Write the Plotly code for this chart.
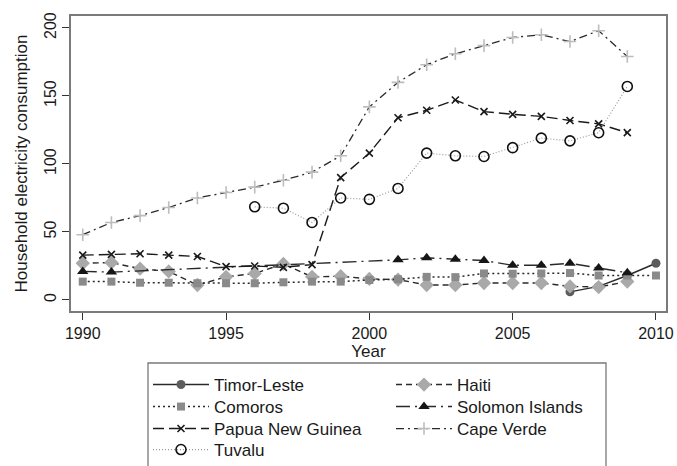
import plotly.graph_objects as go

years = list(range(1990, 2011))

# Household electricity consumption by country (None = no observation)
timor_leste = [None] * 17 + [6, 10, 18, 27]
haiti = [27, 27.5, 23, 21, 11, 17, 19.5, 26.5, 17, 17.5, 15.5, 15, 11, 11,
         12.5, 12.5, 12.5, 10, 9.5, 13.5, None]
comoros = [13.5, 13.5, 12.7, 12.7, 12.3, 12.3, 12.3, 13, 13.5, 13.5, 14.7,
           15.2, 17, 16.8, 19.5, 19.3, 19.5, 19.8, 18, 18, 18]
solomon_islands = [21, 20.5, None, None, None, None, None, None, None, None,
                   None, 29.5, 31, 30, 29, 25.5, 25.5, 27, 23.5, 20, None]
papua_new_guinea = [33, 33.5, 34, 33, 32, 24.5, 25, 24, 26, 90, 108, 134,
                    139.5, 147, 138.5, 136.5, 135, 132, 129.5, 123, None]
cape_verde = [48, 57, 62, 68, 75, 79, 83, 88, 94, 106, 142, 160, 173, 181,
              187, 193, 195, 190, 198, 179, None]
tuvalu = [None] * 6 + [68.5, 67.5, 57, 75, 74, 82, 108, 106, 105.5, 112,
                       119, 117, 123, 157, None]

x_ticks = [1990, 1995, 2000, 2005, 2010]
y_ticks = [0, 50, 100, 150, 200]

FONT = "Liberation Sans, Arial, sans-serif"

# (name, values, marker, line, legend row)
series = [
    ("Timor-Leste", timor_leste, dict(symbol="circle", size=9, color="#5c5c5c"),
     dict(color="#2a2a2a", dash="solid", width=1.4), "legend"),
    ("Haiti", haiti, dict(symbol="diamond", size=11, color="#a9a9a9"),
     dict(color="#2a2a2a", dash="6px,4px", width=1.4), "legend"),
    ("Comoros", comoros, dict(symbol="square", size=8, color="#8a8a8a"),
     dict(color="#2a2a2a", dash="2px,3px", width=1.5), "legend2"),
    ("Solomon Islands", solomon_islands,
     dict(symbol="triangle-up", size=10, color="#161616"),
     dict(color="#2a2a2a", dash="14px,5px,2px,5px", width=1.4), "legend2"),
    ("Papua New Guinea", papua_new_guinea,
     dict(symbol="x-thin", size=7, color="#1a1a1a",
          line=dict(width=1.6, color="#1a1a1a")),
     dict(color="#1a1a1a", dash="11px,5px", width=1.4), "legend3"),
    ("Cape Verde", cape_verde,
     dict(symbol="cross-thin", size=9, color="#bdbdbd",
          line=dict(width=1.6, color="#bdbdbd")),
     dict(color="#2a2a2a", dash="8px,4px,2px,4px", width=1.3), "legend3"),
    ("Tuvalu", tuvalu,
     dict(symbol="circle-open", size=10, color="#111111",
          line=dict(width=1.6, color="#111111")),
     dict(color="#9a9a9a", dash="1px,2px", width=1.2), "legend4"),
]

fig = go.Figure()
for name, vals, marker, line, leg in series:
    fig.add_trace(go.Scatter(
        x=years, y=vals, name=name, mode="lines+markers",
        connectgaps=True, marker=marker, line=line, legend=leg,
    ))

axis_common = dict(
    showgrid=False, zeroline=False, showline=True, mirror=True,
    linecolor="#7a7a7a", linewidth=1.5,
    ticks="outside", ticklen=7, tickwidth=1, tickcolor="#333333",
    tickfont=dict(family=FONT, size=16, color="#1a1a1a"),
)

W, H = 677, 466


def legend_row(top_px):
    return dict(
        orientation="h", xref="container", yref="container",
        x=148 / W, xanchor="left", y=1 - top_px / H, yanchor="top",
        entrywidth=172, entrywidthmode="pixels", itemwidth=56,
        font=dict(family=FONT, size=17, color="#1a1a1a"),
        bgcolor="rgba(0,0,0,0)", borderwidth=0, tracegroupgap=0,
    )


fig.update_layout(
    width=W, height=H,
    margin=dict(l=71, r=11, t=16, b=155, autoexpand=False),
    paper_bgcolor="white", plot_bgcolor="white",
    font=dict(family=FONT, color="#1a1a1a"),
    xaxis=dict(range=[1989.59, 2010.35], tickvals=x_ticks,
               title=dict(text="Year", font=dict(family=FONT, size=17),
                          standoff=0),
               **axis_common),
    yaxis=dict(range=[-8.1, 208.8], tickvals=y_ticks, tickangle=-90,
               title=dict(text="Household electricity consumption",
                          font=dict(family=FONT, size=17), standoff=10),
               **axis_common),
    legend=legend_row(367),
    legend2=legend_row(389),
    legend3=legend_row(411),
    legend4=legend_row(432),
    shapes=[dict(type="rect", xref="paper", yref="paper",
                 x0=(148 - 71) / 595, x1=(606 - 71) / 595,
                 y0=(311 - 363) / 295, y1=-0.62,
                 line=dict(color="#7a7a7a", width=1.3),
                 fillcolor="rgba(0,0,0,0)", layer="below")],
)

fig.write_html("out.html")
